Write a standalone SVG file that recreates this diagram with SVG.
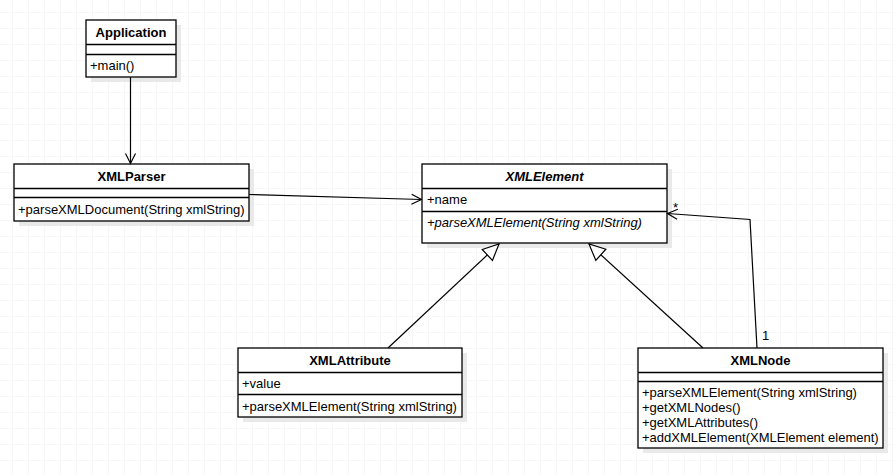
<svg xmlns="http://www.w3.org/2000/svg" width="894" height="475" viewBox="0 0 894 475">
<defs>
<pattern id="grid" x="12" y="12" width="16" height="16" patternUnits="userSpaceOnUse">
<path d="M16 0 H0 V16" fill="none" stroke="#efefef" stroke-width="1"/>
</pattern>
<marker id="open" viewBox="0 0 12 12" refX="11" refY="6" markerWidth="12" markerHeight="12" markerUnits="userSpaceOnUse" orient="auto">
<path d="M1 1 L11 6 L1 11" fill="none" stroke="#000" stroke-width="1.2"/>
</marker>
<marker id="tri" viewBox="0 0 18 18" refX="17" refY="9" markerWidth="18" markerHeight="18" markerUnits="userSpaceOnUse" orient="auto">
<path d="M1 1.5 L17 9 L1 16.5 Z" fill="#fff" stroke="#000" stroke-width="1.2"/>
</marker>
</defs>
<style>
.box{fill:#fff;stroke:#000;stroke-width:1.3}
.sh{fill:#e9e9e9}
.ln{stroke:#000;stroke-width:1.3}
.t{font-family:"Liberation Sans",Arial,sans-serif;font-size:13px;fill:#000}
.h{font-weight:bold;text-anchor:middle}
.i{font-style:italic}
.c{stroke:#000;stroke-width:1.2;fill:none}
</style>
<rect width="894" height="475" fill="#fff"/>
<rect width="894" height="475" fill="url(#grid)"/>

<g id="Application">
<rect class="sh" x="91" y="25" width="90" height="57"/>
<rect class="box" x="86" y="20" width="90" height="57"/>
<line class="ln" x1="86" y1="44.5" x2="176" y2="44.5"/>
<line class="ln" x1="86" y1="54.5" x2="176" y2="54.5"/>
<text class="t h" x="131" y="37">Application</text>
<text class="t" x="90" y="70">+main()</text>
</g>

<g id="XMLParser">
<rect class="sh" x="19" y="169" width="235" height="57"/>
<rect class="box" x="14" y="164" width="235" height="57"/>
<line class="ln" x1="14" y1="188.5" x2="249" y2="188.5"/>
<line class="ln" x1="14" y1="197.5" x2="249" y2="197.5"/>
<text class="t h" x="131.5" y="181">XMLParser</text>
<text class="t" x="18" y="214">+parseXMLDocument(String xmlString)</text>
</g>

<g id="XMLElement">
<rect class="sh" x="427" y="169" width="245" height="79"/>
<rect class="box" x="422" y="164" width="245" height="79"/>
<line class="ln" x1="422" y1="188.5" x2="667" y2="188.5"/>
<line class="ln" x1="422" y1="211.5" x2="667" y2="211.5"/>
<text class="t h i" x="544.5" y="181">XMLElement</text>
<text class="t" x="427" y="204">+name</text>
<text class="t i" x="427" y="227">+parseXMLElement(String xmlString)</text>
</g>

<g id="XMLAttribute">
<rect class="sh" x="243" y="353" width="224" height="69"/>
<rect class="box" x="238" y="348" width="224" height="69"/>
<line class="ln" x1="238" y1="372.5" x2="462" y2="372.5"/>
<line class="ln" x1="238" y1="394.5" x2="462" y2="394.5"/>
<text class="t h" x="350" y="365">XMLAttribute</text>
<text class="t" x="242" y="388">+value</text>
<text class="t" x="242" y="411">+parseXMLElement(String xmlString)</text>
</g>

<g id="XMLNode">
<rect class="sh" x="643" y="353" width="245" height="100"/>
<rect class="box" x="638" y="348" width="245" height="100"/>
<line class="ln" x1="638" y1="372.5" x2="883" y2="372.5"/>
<line class="ln" x1="638" y1="381.5" x2="883" y2="381.5"/>
<text class="t h" x="760.5" y="365">XMLNode</text>
<text class="t" x="642" y="397">+parseXMLElement(String xmlString)</text>
<text class="t" x="642" y="412">+getXMLNodes()</text>
<text class="t" x="642" y="427">+getXMLAttributes()</text>
<text class="t" x="642" y="442">+addXMLElement(XMLElement element)</text>
</g>

<g id="connectors">
<line class="c" x1="130.5" y1="77" x2="130.5" y2="163.5" marker-end="url(#open)"/>
<line class="c" x1="249" y1="194.5" x2="421.5" y2="199.5" marker-end="url(#open)"/>
<line class="c" x1="388" y1="348" x2="499" y2="244" marker-end="url(#tri)"/>
<line class="c" x1="703" y1="348" x2="589" y2="244" marker-end="url(#tri)"/>
<polyline class="c" points="757,348 750,219.5 667.5,213.5" marker-end="url(#open)"/>
<text class="t" x="673" y="212" font-size="12">*</text>
<text class="t" x="762" y="340">1</text>
</g>
</svg>
